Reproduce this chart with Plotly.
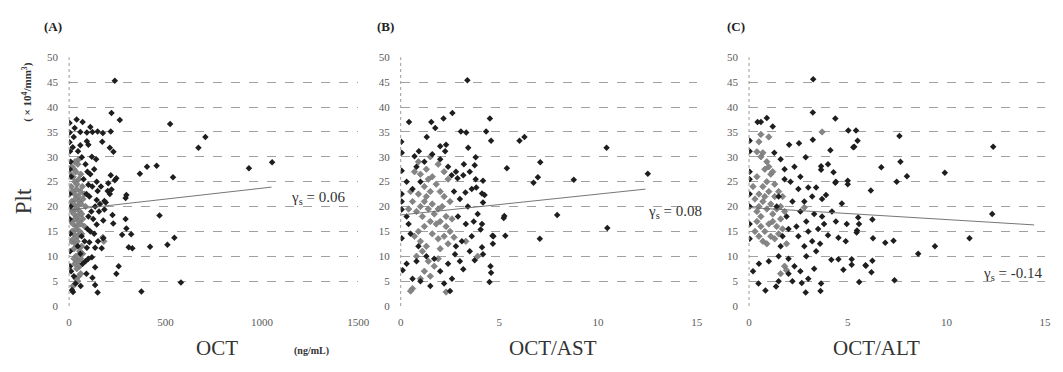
import plotly.graph_objects as go

# ---------------- data ----------------
A_black_x = [237, 220, 263, 524, 2, 39, 29, 3, 58, 92, 121, 148, 216, 2, 24, 92, 172, 211, 671, 707,
             58, 100, 19, 46, 5, 118, 66, 404, 454, 367, 539, 933, 1053, 216, 245, 143, 203, 100, 220, 200,
             148, 211, 297, 143, 183, 135, 183, 469, 225, 293, 177, 229, 143, 297, 275, 322, 177, 546, 510, 420,
             309, 328, 135, 169, 92, 58, 118, 257, 245, 135, 121, 135, 148, 375, 580, 15, 33, 293, 237,
             8, 4, 10, 85, 95, 110, 75, 120, 90, 105, 115, 100, 125, 95, 110, 130, 150, 80, 105, 85,
             70, 100, 5, 10, 25, 90, 60, 20, 45, 65, 160, 155, 165, 190, 130, 140, 8, 3, 6, 3, 5, 110, 70, 175, 230]
A_black_y = [45.3, 38.8, 37.4, 36.6, 36.8, 37.5, 35.8, 34.9, 35.0, 34.9, 35.0, 35.1, 35.1, 32.9, 34.0, 33.1, 33.0, 31.8, 31.8, 34.0,
             32.3, 32.4, 31.9, 31.1, 31.1, 30.0, 29.9, 28.0, 28.2, 26.6, 25.9, 27.7, 28.9, 26.3, 25.7, 25.0, 24.7, 24.4, 23.4, 23.1,
             23.1, 22.5, 22.3, 21.3, 21.1, 20.0, 19.4, 18.2, 18.3, 17.5, 17.2, 16.6, 16.4, 15.6, 14.3, 14.4, 13.6, 13.7, 12.3, 11.9,
             11.8, 11.6, 11.7, 11.6, 11.7, 10.5, 9.8, 8.0, 6.5, 7.8, 5.7, 4.2, 2.7, 2.9, 4.7, 3.2, 4.5, 21.7, 25.3,
             29.0, 27.5, 26.0, 28.5, 27.0, 26.5, 25.5, 24.0, 22.5, 22.0, 19.0, 18.0, 17.5, 15.5, 15.0, 14.5, 13.0, 13.0, 12.8, 9.0,
             8.5, 9.5, 8.0, 7.0, 6.0, 6.5, 4.0, 2.8, 12.0, 14.0, 20.5, 19.0, 24.0, 20.8, 27.5, 29.5, 20.0, 17.5, 14.5, 22.5, 11.0, 36.0, 37.0, 34.8, 31.0]
A_gray_x = [15, 25, 35, 45, 20, 30, 40, 50, 60, 10, 18, 28, 38, 48, 58, 68, 12, 22, 32, 42, 52, 62, 72, 15, 25, 35, 45, 55, 65,
            10, 20, 30, 40, 50, 60, 70, 15, 25, 35, 45, 55, 65, 12, 22, 32, 42, 80, 85, 78, 8, 30, 50, 175, 180,
            35, 45, 55, 40, 30, 60, 50, 35, 45, 60, 25, 20, 70, 55, 65, 25]
A_gray_y = [28.0, 27.5, 27.0, 28.5, 26.0, 25.0, 24.5, 25.5, 26.5, 24.0, 23.0, 22.5, 23.5, 22.0, 23.0, 24.0, 21.0, 20.5, 21.5, 20.0, 21.0, 20.5, 21.5,
            19.0, 18.5, 19.5, 18.0, 19.0, 18.5, 17.0, 16.5, 17.5, 16.0, 17.0, 16.5, 17.5, 15.0, 14.5, 15.5, 14.0, 15.0, 14.5, 13.0, 13.5, 12.5, 13.0,
            16.0, 20.0, 22.5, 26.5, 29.0, 29.5, 13.8, 13.0, 10.0, 9.0, 8.0, 7.5, 8.5, 9.5, 6.0, 5.5, 5.0, 6.5, 9.5, 4.0, 10.5, 11.0, 12.0, 11.5]
A_trend_x = [0, 1050]
A_trend_y = [19.3, 23.9]

B_black_x = [3.38, 2.62, 2.17, 1.55, 0.42, 1.75, 4.52, 3.05, 3.32, 4.33, 4.58, 1.32, 0.03, 6.02, 6.27, 2.0, 2.3, 2.25, 3.42, 0.92,
             0.7, 3.8, 3.75, 5.38, 3.17, 2.58, 2.88, 3.8, 4.17, 3.83, 3.28, 4.12, 4.25, 4.17, 5.25, 4.12, 4.05, 4.7, 5.3, 4.67,
             4.12, 4.17, 3.75, 4.55, 4.58, 4.5, 3.17, 2.75, 2.5, 0.05, 0.05, 0.05, 0.05, 0.05, 0.05, 7.07, 6.73, 6.95, 8.77, 10.43,
             12.52, 7.93, 5.22, 7.05, 10.47, 4.65,
             0.3, 0.1, 0.6, 1.0, 1.5, 2.2, 2.6, 0.4, 0.3, 0.8, 1.2, 1.6, 2.0, 2.4, 2.8, 3.2, 3.5, 3.6, 3.0, 3.4,
             2.9, 3.3, 3.6, 3.1, 2.8, 3.5, 3.0, 2.4, 2.0, 1.3, 0.9, 0.5, 0.3, 0.6, 1.0, 2.7, 3.9, 3.7, 0.8, 1.7]
B_black_y = [45.4, 38.8, 37.7, 37.0, 37.0, 35.8, 37.7, 35.1, 34.9, 35.1, 33.2, 34.0, 33.0, 33.2, 34.0, 32.1, 32.4, 31.1, 31.8, 31.1,
             30.1, 29.9, 28.3, 27.7, 26.3, 26.3, 25.7, 25.5, 25.2, 23.8, 22.8, 22.6, 22.3, 20.8, 18.1, 16.5, 15.4, 14.0, 14.1, 12.5,
             11.8, 10.4, 9.2, 8.0, 6.7, 4.8, 7.4, 10.4, 3.0, 13.6, 19.4, 27.2, 30.8, 22.5, 21.0, 28.9, 24.8, 25.9, 25.4, 31.8,
             26.6, 18.3, 17.7, 13.5, 15.7, 14.1,
             8.5, 7.2, 5.5, 5.0, 4.0, 4.5, 5.5, 16.5, 25.0, 28.0, 29.0, 30.5, 29.5, 28.0, 27.0, 28.5, 27.0, 23.5, 21.5, 20.0,
             18.0, 16.5, 14.0, 13.0, 12.0, 11.0, 9.0, 8.5, 7.0, 10.0, 12.0, 14.5, 18.0, 23.5, 25.0, 23.0, 18.5, 17.0, 9.0, 9.5]
B_gray_x = [1.0, 1.2, 1.4, 1.6, 0.8, 1.1, 1.3, 1.5, 1.7, 1.9, 2.1, 2.3, 0.6, 0.9, 1.2, 1.4, 1.0, 1.3, 1.6, 0.7,
            0.9, 1.5, 1.8, 2.0, 2.2, 2.5, 1.8, 2.0, 2.3, 2.6, 1.5, 1.2, 0.9, 0.7, 1.0, 1.3, 1.6, 1.9, 2.2, 2.5,
            1.1, 0.8, 1.4, 1.7, 1.9, 1.2, 1.5, 1.0, 0.6, 0.5, 2.3, 2.0, 2.4, 2.7, 3.3, 3.9, 0.4, 0.5, 2.4, 2.2, 1.9]
B_gray_y = [20.0, 21.0, 19.5, 20.5, 19.0, 18.0, 22.0, 23.0, 18.5, 19.5, 20.0, 18.0, 21.0, 22.5, 24.0, 25.5, 26.5, 27.5, 26.0, 27.0,
            29.0, 30.0, 24.5, 23.0, 22.0, 21.0, 16.5, 17.0, 16.0, 17.5, 17.0, 16.0, 15.0, 14.0, 13.0, 12.0, 14.5, 13.5, 14.0, 15.0,
            11.0, 10.0, 9.0, 8.0, 9.5, 7.0, 6.0, 5.5, 3.5, 3.0, 2.8, 11.5, 12.5, 13.8, 13.0, 10.0, 19.5, 23.0, 25.5, 27.0, 28.5]
B_trend_x = [0, 12.4]
B_trend_y = [18.3, 23.5]

C_black_x = [3.25, 3.23, 4.37, 0.9, 0.43, 0.6, 1.2, 5.03, 5.42, 5.5, 5.28, 3.23, 2.53, 2.03, 0.03, 0.03, 1.28, 4.12, 2.87, 3.65,
             3.65, 4.28, 6.7, 5.0, 5.0, 4.37, 6.17, 4.7, 5.53, 5.57, 6.25, 4.95, 4.53, 5.45, 4.0, 4.53, 4.17, 4.78, 5.2, 5.2,
             5.92, 6.2, 5.58, 3.65, 3.62, 2.87, 1.37, 0.83, 0.48, 2.67, 7.62, 12.37, 7.67, 7.48, 8.0, 9.92, 6.28, 6.9, 7.32, 8.57,
             9.42, 11.17, 12.32, 7.37, 6.25, 5.9, 5.47, 5.33,
             0.03, 0.03, 0.03, 0.03, 0.03, 0.03, 0.2, 0.5, 1.0, 1.5, 2.0, 2.3, 2.6, 2.0, 1.5, 2.2, 3.0, 3.3, 2.9, 3.4,
             2.8, 3.2, 3.6, 2.5, 3.0, 3.5, 3.8, 2.4, 2.9, 3.3, 3.7, 2.6, 2.2, 2.8, 3.2, 3.7, 3.9, 2.5, 3.0, 3.4,
             2.1, 2.6, 2.3, 1.8, 1.6, 1.8, 1.5, 1.4, 1.9, 2.0, 1.7, 1.6, 4.0, 4.4, 4.2, 4.4, 4.9]
C_black_y = [45.6, 38.9, 37.7, 37.8, 37.0, 37.0, 36.1, 35.3, 35.3, 33.2, 31.9, 33.4, 32.7, 32.4, 33.2, 31.1, 30.8, 31.3, 29.9, 28.1,
             27.4, 26.9, 27.9, 25.2, 24.5, 24.8, 23.2, 20.6, 17.8, 16.5, 17.4, 16.5, 13.7, 14.8, 14.2, 9.4, 9.3, 7.3, 9.4, 8.3,
             8.1, 6.8, 4.8, 4.5, 3.0, 2.7, 3.9, 3.1, 4.5, 4.6, 34.2, 32.0, 29.0, 25.0, 26.1, 26.8, 13.6, 12.7, 13.1, 10.5,
             12.0, 13.6, 18.5, 5.2, 9.1, 8.2, 15.2, 32.0,
             27.0, 25.5, 22.5, 20.0, 16.5, 13.5, 7.0, 8.5, 9.0, 10.0, 9.5, 8.0, 7.0, 6.5, 5.0, 5.0, 5.5, 7.5, 10.0, 11.0,
             12.0, 13.0, 12.5, 14.0, 15.0, 15.5, 16.5, 16.0, 17.0, 18.5, 18.0, 19.0, 21.0, 21.0, 22.0, 21.5, 22.3, 23.5, 23.8, 23.8,
             25.0, 26.0, 28.0, 27.5, 29.5, 25.5, 22.0, 20.0, 18.0, 15.5, 14.0, 12.0, 28.5, 25.0, 19.0, 17.0, 13.0]
C_gray_x = [0.5, 0.7, 0.9, 1.1, 0.4, 0.6, 0.8, 1.0, 1.2, 1.4, 1.6, 0.3, 0.5, 0.7, 0.9, 1.1, 0.8, 1.0, 0.9, 1.2,
            0.6, 0.7, 1.3, 1.5, 1.7, 0.4, 0.6, 0.8, 1.0, 1.2, 1.4, 1.6, 0.5, 0.7, 0.9, 1.1, 1.3, 1.5, 1.7, 0.3,
            0.2, 0.4, 1.3, 1.8, 1.9, 1.8, 1.9, 1.6, 3.7, 2.8, 0.6, 0.5, 1.0, 0.4]
C_gray_y = [20.0, 21.0, 19.5, 20.5, 19.0, 18.0, 22.0, 23.0, 18.5, 19.5, 20.0, 21.5, 22.5, 24.0, 25.0, 26.5, 27.5, 28.0, 29.0, 27.0,
            30.0, 30.8, 24.5, 23.0, 22.0, 17.0, 16.0, 15.0, 16.5, 17.0, 16.0, 17.5, 14.0, 13.0, 12.5, 14.0, 13.5, 14.5, 15.5, 15.0,
            24.0, 26.0, 22.0, 19.0, 12.5, 8.0, 7.2, 6.5, 35.0, 19.8, 34.5, 33.0, 34.0, 31.0]
C_trend_x = [0, 14.45]
C_trend_y = [19.8, 16.3]

panel_labels = ["(A)", "(B)", "(C)"]
x_titles = ["OCT", "OCT/AST", "OCT/ALT"]
rho_texts = ["γ<sub>s</sub> = 0.06", "γ<sub>s</sub> = 0.08", "γ<sub>s</sub> = -0.14"]
A_xticks = [0, 500, 1000, 1500]
BC_xticks = [0, 5, 10, 15]
y_ticks = [0, 5, 10, 15, 20, 25, 30, 35, 40, 45, 50]

# ---------------- figure ----------------
W, H = 1063, 372
SERIF = "Liberation Serif, Times New Roman, serif"
fig = go.Figure()

panels = [
    (A_black_x, A_black_y, A_gray_x, A_gray_y, A_trend_x, A_trend_y),
    (B_black_x, B_black_y, B_gray_x, B_gray_y, B_trend_x, B_trend_y),
    (C_black_x, C_black_y, C_gray_x, C_gray_y, C_trend_x, C_trend_y),
]
for i, (bx, by, gx, gy, tx, ty) in enumerate(panels):
    xa = "x" if i == 0 else f"x{i+1}"
    ya = "y" if i == 0 else f"y{i+1}"
    fig.add_trace(go.Scatter(x=gx, y=gy, mode="markers", xaxis=xa, yaxis=ya,
                             marker=dict(symbol="diamond", size=5, color="#858585",
                                         line=dict(width=0.6, color="#707070")),
                             showlegend=False, hoverinfo="skip"))
    fig.add_trace(go.Scatter(x=bx, y=by, mode="markers", xaxis=xa, yaxis=ya,
                             marker=dict(symbol="diamond", size=5, color="#1e1e1e"),
                             showlegend=False, hoverinfo="skip"))
    fig.add_trace(go.Scatter(x=tx, y=ty, mode="lines", xaxis=xa, yaxis=ya,
                             line=dict(color="#666666", width=0.9),
                             showlegend=False, hoverinfo="skip"))

# pixel geometry -> paper domains
def px(v):
    return v / W

def py(v):
    return 1 - v / H

x_domains = [(67, 360), (403, 703), (756, 1056)]
y_dom = [py(310), py(53)]
x_ranges = [[0, 1500], [0, 15], [0, 15]]
x_tickvals = [A_xticks, BC_xticks, BC_xticks]

tickfont = dict(family=SERIF, size=11, color="#5a5a5a")
for i in range(3):
    sfx = "" if i == 0 else str(i + 1)
    fig.update_layout(**{
        f"xaxis{sfx}": dict(domain=[px(x_domains[i][0]), px(x_domains[i][1])],
                            range=x_ranges[i], tickvals=x_tickvals[i], showgrid=False,
                            zeroline=False, showline=False, ticks="", tickfont=tickfont,
                            ticklabelstandoff=8, anchor="y" + sfx, fixedrange=True),
        f"yaxis{sfx}": dict(domain=y_dom, range=[0, 50], tickvals=y_ticks, showgrid=True,
                            gridcolor="#a0a0a0", griddash="dash", gridwidth=1,
                            zeroline=False, showline=False, ticks="", tickfont=tickfont,
                            ticklabelstandoff=10, anchor="x" + sfx, fixedrange=True),
    })
    # dotted vertical axis line
    fig.add_shape(type="line", xref=f"x{sfx} domain", yref=f"y{sfx} domain",
                  x0=0, x1=0, y0=0, y1=1, line=dict(color="#9a9a9a", width=1, dash="dot"))

annotations = []
def paper_text(text, xc, yc, size, angle=0, color="#333"):
    return dict(text=text, x=px(xc), y=py(yc), xref="paper", yref="paper",
                xanchor="center", yanchor="middle", textangle=angle, showarrow=False,
                font=dict(family=SERIF, size=size, color=color))

for lab, xc in zip(panel_labels, [51, 388, 743]):
    annotations.append(paper_text(f"<b>{lab}</b>", xc, 21, 13, color="#222"))
for t, xc in zip(x_titles, [217, 557, 885]):
    annotations.append(paper_text(t, xc, 353, 21))
annotations.append(paper_text("<b>(ng/mL)</b>", 313, 357, 10))
annotations.append(paper_text("Plt", 21, 202, 23, angle=-90))
annotations.append(paper_text("<b>( × 10<sup>4</sup>/mm<sup>3</sup>)</b>", 24, 89, 11, angle=-90))

rho_pos = [(1290, 21.8, "x", "y"), (13.9, 18.9, "x2", "y2"), (13.35, 6.4, "x3", "y3")]
for t, (xv, yv, xr, yr) in zip(rho_texts, rho_pos):
    annotations.append(dict(text=t, x=xv, y=yv, xref=xr, yref=yr, showarrow=False,
                            xanchor="center", yanchor="middle",
                            font=dict(family=SERIF, size=15, color="#333")))

fig.update_layout(width=W, height=H, autosize=False,
                  margin=dict(l=0, r=0, t=0, b=0),
                  paper_bgcolor="white", plot_bgcolor="white",
                  annotations=annotations)

fig.write_html("out.html")
